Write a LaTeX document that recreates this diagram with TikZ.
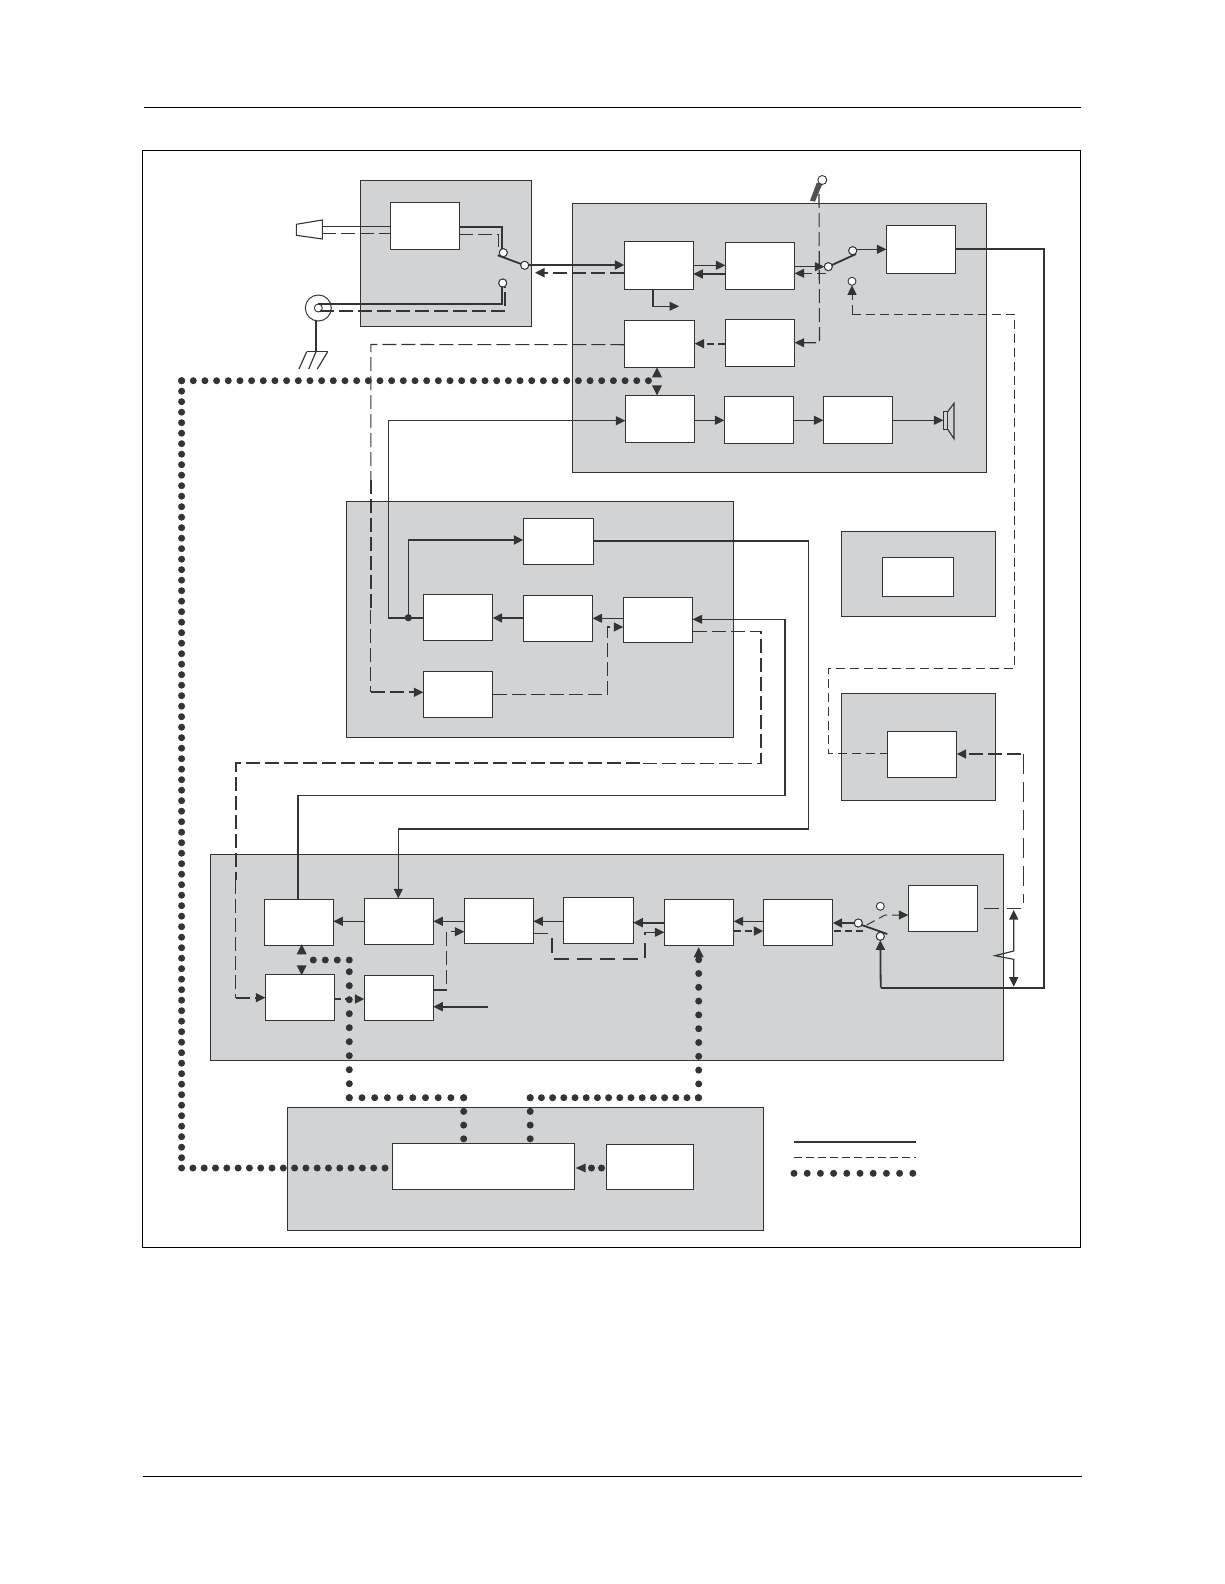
\documentclass[tikz,border=0pt]{standalone}
\usetikzlibrary{arrows.meta}
\definecolor{ink}{HTML}{333435}
\definecolor{panel}{HTML}{D1D3D4}
\newcommand\bx[6]{\node[#1,minimum width={(#5-#3)*1pt},minimum height={(#6-#4)*1pt}] (#2) at ({(#3+#5)/2},{(#4+#6)/2}) {};}
\tikzset{
  x=1pt,y=-1pt,
  >={Triangle[length=9.5pt,width=9pt]},
  grp/.style={draw=ink,fill=panel,line width=1pt,inner sep=0pt,outer sep=0pt,rectangle},
  blk/.style={draw=ink,fill=white,line width=1.1pt,inner sep=0pt,outer sep=0pt,rectangle},
  contact/.style={draw=ink,fill=white,line width=.9pt,circle,inner sep=0pt,outer sep=0pt,minimum size=8pt},
  wire/.style={draw=ink,line width=1.15pt},
  wirebold/.style={draw=ink,line width=1.8pt},
  dashwire/.style={draw=ink,line width=1pt,dash pattern=on 9pt off 5pt},
  dashlong/.style={draw=ink,line width=1.1pt,dash pattern=on 14pt off 5pt},
  dashgap/.style={draw=ink,line width=1.1pt,dash pattern=on 15pt off 8pt},
  dashbold/.style={draw=ink,line width=1.7pt,dash pattern=on 14pt off 5pt},
  dashshort/.style={draw=ink,line width=1.7pt,dash pattern=on 7pt off 4pt},
  dotbus/.style={draw=ink,line width=7pt,line cap=round,dash pattern=on 0pt off #1},
  dotbus/.default=13pt,
  rule/.style={draw=black,line width=1.1pt},
  tipfill/.style={fill=ink}
}
\begin{document}
\begin{tikzpicture}
\useasboundingbox (0,0) rectangle (1224,1584);
% page rules and frame
\node[draw=black,line width=1pt,inner sep=0pt,outer sep=0pt,minimum width=938pt,minimum height=1096.7pt] (frame) at (611.3,698.65) {};
\coordinate (topL) at (144,107.3); \coordinate (topR) at (1081,107.3);
\coordinate (botL) at (143,1476.3); \coordinate (botR) at (1081.7,1476.3);
\draw[rule] (topL) -- (topR);
\draw[rule] (botL) -- (botR);
% panels
\bx{grp}{pA}{360.3}{180.3}{531.3}{326}
\bx{grp}{pB}{572.3}{203}{986.3}{472.3}
\bx{grp}{pD}{346.3}{501.3}{733.3}{737.3}
\bx{grp}{pG}{841.3}{531.7}{995.3}{616.3}
\bx{grp}{pC}{841.3}{693.3}{995.7}{800.3}
\bx{grp}{pE}{210.3}{854.3}{1003.3}{1060.3}
\bx{grp}{pF}{287.3}{1107.3}{763.8}{1230.3}
% blocks
\bx{blk}{a1}{390.3}{202.3}{459.3}{249.3}
\bx{blk}{b1}{624.3}{241.3}{693.3}{289.3}
\bx{blk}{b2}{725.3}{242.3}{794.7}{289.3}
\bx{blk}{b3}{886.3}{225.3}{955.7}{273.3}
\bx{blk}{b4}{624.3}{320.3}{694.7}{367.3}
\bx{blk}{b5}{725.3}{319.3}{794.7}{366.3}
\bx{blk}{b6}{625.3}{395.3}{694.7}{442.3}
\bx{blk}{b7}{724.3}{396.3}{793.7}{443.7}
\bx{blk}{b8}{823.3}{396.3}{892.7}{443.7}
\bx{blk}{d1}{523.3}{518.3}{593.3}{564.3}
\bx{blk}{d2}{423.3}{594.3}{492.7}{640.3}
\bx{blk}{d3}{523.3}{595.3}{592.7}{641.3}
\bx{blk}{d4}{623.3}{597.3}{692.7}{642.7}
\bx{blk}{d5}{423.3}{671.3}{492.7}{717.3}
\bx{blk}{g1}{882.3}{557.3}{953.3}{596.3}
\bx{blk}{c1}{887.3}{731.3}{956.7}{777.3}
\bx{blk}{e1}{264.3}{899.3}{333.3}{945.3}
\bx{blk}{e2}{265.3}{974.3}{334.3}{1020.3}
\bx{blk}{e3}{364.3}{898.3}{433.3}{944.3}
\bx{blk}{e4}{364.3}{975.3}{433.3}{1020.3}
\bx{blk}{e5}{464.3}{898.3}{533.3}{943.3}
\bx{blk}{e6}{563.3}{897.3}{633.3}{943.3}
\bx{blk}{e7}{664.3}{899.3}{733.7}{945.3}
\bx{blk}{e8}{763.3}{899.3}{832.7}{945.3}
\bx{blk}{e9}{908.3}{885.3}{977.3}{931.3}
\bx{blk}{f1}{392.5}{1143.3}{574.7}{1189.3}
\bx{blk}{f2}{606.7}{1144.3}{693.5}{1189.3}
% contacts
\node[contact] (sa1) at (503.3,252.7) {};
\node[contact] (sa2) at (524.7,265.3) {};
\node[contact] (sa3) at (502.7,283) {};
\node[contact] (sb1) at (828.3,266.7) {};
\node[contact] (sb2) at (852.7,250.7) {};
\node[contact] (sb3) at (852,281.3) {};
\node[contact] (se1) at (858.3,923) {};
\node[contact] (se2) at (880.3,906.3) {};
\node[contact] (se3) at (880.3,936.3) {};
% horn
\draw[ink,line width=1.1pt] (296.3,224.3) -- (322.3,220) -- (322.3,239) -- (296.3,235.3) -- cycle;
\coordinate (horn1) at (322.3,226.7);
\coordinate (horn2) at (322.3,233.3);
\draw[wire] (horn1) -- (a1.west |- horn1);
\draw[dashlong] (horn2) -- (a1.west |- horn2);
\draw[wirebold] (a1.east |- 0,226.7) -- (501.7,226.7) -- (501.7,249);
\draw[dashlong] (a1.east |- 0,234.3) -- (498.3,234.3) -- (498.3,250);
% coax and earth
\node[draw=ink,line width=1pt,circle,inner sep=0pt,minimum size=26pt] (coax) at (318.3,308) {};
\node[contact] (coaxin) at (318.3,308) {};
\draw[wirebold] (318.3,304) -- (501.7,304) -- (501.7,287);
\draw[dashbold] (320,311) -- (505.3,311) -- (505.3,287);
\coordinate (gnd) at (316,351.7);
\draw[wire] (316,321) -- (gnd);
\draw[wire] (306.7,351.7) -- (327.7,351.7);
\draw[wire] (306.7,351.7) -- (299,369);
\draw[wire] (gnd) -- (308.7,369);
\draw[wire] (327.7,351.7) -- (317.3,369);
\node[contact] at (sa3) {};
% switch A arm, links
\draw[wirebold] (497.7,255.3) -- (sa2);
\node[contact] at (sa2) {};
\node[contact] at (sa1) {};
\draw[wirebold,->] (sa2.east |- 0,265) -- (b1.west |- 0,265);
\draw[dashbold,->] (b1.west |- 0,272.7) -- (535,272.7);
\draw[wire,->] (b1.east |- 0,265.3) -- (b2.west |- 0,265.3);
\draw[wirebold,->] (b2.west |- 0,274) -- (b1.east |- 0,274);
\draw[wire,->] (653,289.3) -- (653,306.3) -- (679,306.3);
% mic
\fill[ink!85] (816.7,182.7) -- (822.3,184) -- (815,201.7) -- (810,200.7) -- cycle;
\node[contact,minimum size=9pt] (mic) at (822.3,180) {};
\coordinate (micb) at (819,194);
\draw[dashlong,->] (micb) -- (819.5,342.7) -- (b5.east |- 0,342.7);
\draw[wire,->] (b2.east |- 0,266.7) -- (sb1.west);
\draw[dashwire,->] (825.7,273.3) -- (b2.east |- 0,273.3);
\draw[wirebold] (sb1) -- (856,254);
\node[contact] at (sb1) {};
\node[contact] at (sb2) {};
\draw[wire,->] (857,249.3) -- (b3.west |- 0,249.3);
\draw[dashshort,->] (b5.west |- 0,343.7) -- (b4.east |- 0,343.7);
\draw[dashwire,->] (852,314) -- (sb3.south);
% dashed path to C
\draw[dashwire] (852,314) -- (1014.5,314) -- (1014.5,668.3) -- (828.3,668.3) -- (828.3,753.3) -- (c1.west |- 0,753.3);
% B3 out
\draw[wirebold] (b3.east |- 0,249) -- (1044,249) -- (1044,700);
\draw[wire] (1044,700) -- (1044,860);
\draw[wirebold] (1044,860) -- (1044,987.7) -- (880.7,987.7);
\draw[wirebold,->] (880.7,987.7) -- (se3.south);
% B4 dashed to D5
\draw[dashlong] (b4.west |- 0,344.7) -- (370.8,344.5) -- (370.8,480);
\draw[dashbold] (370.8,480) -- (370.8,610);
\draw[dashlong] (370.8,610) -- (370.8,692.3);
\draw[dashbold,->] (370.8,692.3) -- (d5.west |- 0,692.3);
% lower row of B
\draw[wire,->] (388.3,618) -- (388.3,420.7) -- (b6.west |- 0,420.7);
\draw[wire] (388.3,618) -- (d2.west |- 0,618);
\draw[wire] (408.3,618) -- (408.3,540);
\draw[wirebold,->] (408.3,540) -- (d1.west |- 0,540);
\fill[ink] (408.3,617.7) circle (3.6pt);
\draw[wire,->] (b6.east |- 0,420.3) -- (b7.west |- 0,420.3);
\draw[wire,->] (b7.east |- 0,420.3) -- (b8.west |- 0,420.3);
\coordinate (spk) at (943.3,420.3);
\draw[wire,->] (b8.east |- spk) -- (spk);
\draw[ink,line width=1.1pt] (943.3,411.7) rectangle (947.7,429.3);
\draw[ink,line width=1.1pt] (947.7,411.7) -- (954,403.3) -- (954,438.7) -- (947.7,429.3);
% panel D
\draw[wirebold,->] (d3.west |- 0,618) -- (d2.east |- 0,618);
\draw[wire,->] (d4.west |- 0,618.3) -- (d3.east |- 0,618.3);
\draw[dashlong,->] (d5.east |- 0,694.3) -- (607.7,694.3) -- (607.7,627) -- (d4.west |- 0,627);
\draw[wire] (d1.east |- 0,541) -- (808.3,541) -- (808.3,829) -- (398.3,829);
\draw[wire,->] (398.3,829) -- (e3.north -| 398.3,0);
\draw[wire,->] (e1.north -| 298,0) -- (298,795.7) -- (785,795.7) -- (785,619.3) -- (d4.east |- 0,619.3);
\draw[dashlong] (d4.east |- 0,631.7) -- (761,631.7) -- (761,763.3) -- (640,763.3);
\draw[dashbold] (640,763.3) -- (235.9,763.3) -- (235.9,880);
\draw[dashlong] (235.9,880) -- (235.9,997.7);
\draw[dashbold,->] (235.9,997.7) -- (e2.west |- 0,997.7);
% panel E
\draw[wire,->] (e3.west |- 0,921.3) -- (e1.east |- 0,921.3);
\draw[wire,->] (e5.west |- 0,921.3) -- (e3.east |- 0,921.3);
\draw[wire,->] (e6.west |- 0,921.3) -- (e5.east |- 0,921.3);
\draw[wirebold,->] (e7.west |- 0,922.7) -- (e6.east |- 0,922.7);
\draw[wire,->] (e8.west |- 0,921.3) -- (e7.east |- 0,921.3);
\draw[dashshort,->] (e7.east |- 0,931) -- (e8.west |- 0,931);
\draw[dashshort,->] (e2.east |- 0,999) -- (e4.west |- 0,999);
\draw[dashlong,->] (e4.east |- 0,990) -- (446.7,990) -- (446.7,931.7) -- (e5.west |- 0,931.7);
\draw[dashgap,->] (e5.east |- 0,933.3) -- (552,933.3) -- (552,959) -- (645,959) -- (645,932.3) -- (e7.west |- 0,932.3);
\coordinate (extin) at (487.7,1006.7);
\draw[wirebold,->] (extin) -- (e4.east |- extin);
\draw[wirebold,->] (se1.west) -- (e8.east |- se1.west);
\draw[dashshort] (834,930.7) -- (863,930.7);
\draw[wirebold] (861.7,925) -- (887.3,934);
\draw[dashwire,->] (866.7,925) -- (885,915) -- (e9.west |- 0,915);
\node[contact] at (se1) {};
\node[contact] at (se3) {};
\coordinate (e9out) at (984,908.3);
\draw[dashgap] (e9out) -- (1021,908.3);
\draw[draw=ink,line width=1.1pt,dash pattern=on 20pt off 8pt] (1023.3,754) -- (1023.3,903);
\draw[dashbold,->] (1021,754) -- (c1.east |- 0,754);
% zigzag double arrow
\draw[wire,<->] (1013.7,910) -- (1013.7,951) -- (995,955.7) -- (1013.7,959.3) -- (1013.7,986.7);
% dotted buses, one segment at a time so that a dot sits on each corner
\coordinate (busA) at (463.7,1097.7);
\coordinate (busB) at (349.3,1097.7);
\coordinate (busC) at (349.3,960);
\coordinate (busD) at (530.2,1097.7);
\coordinate (busE) at (698.7,1097.7);
\coordinate (busF) at (181.6,1168);
\coordinate (busG) at (181.6,380.7);
\draw[dotbus=13.7pt] (busA) -- (463.7,1140);
\draw[dotbus=12.7pt] (busB) -- (busA);
\draw[dotbus=14pt] (busB) -- (busC);
\draw[dotbus=12pt] (busC) -- (301.7,960);
\draw[dotbus=13.7pt] (busD) -- (530.2,1140);
\draw[dotbus=11.2pt] (busD) -- (busE);
\draw[dotbus=13.8pt] (busE) -- (698.7,958);
\draw[dotbus=11.3pt] (busF) -- (388,1168);
\draw[dotbus=10.5pt] (busG) -- (busF);
\draw[dotbus=11.67pt] (busG) -- (657,380.7);
\draw[dotbus=10pt] (601.5,1168) -- (590,1168);
% dotted bus tips
\fill[tipfill] (f1.east |- 0,1168) ++(1,0) -- ++(10,-4.5) -- ++(0,9) -- cycle;
\fill[tipfill] (e7.south -| 698.7,0) ++(0,2) -- ++(-5,10) -- ++(10,0) -- cycle;
\fill[tipfill] (e1.south -| 301.7,0) ++(0,-1) -- ++(-5,10) -- ++(10,0) -- cycle;
\fill[tipfill] (e2.north -| 301.7,0) ++(0,1) -- ++(-5,-10) -- ++(10,0) -- cycle;
\fill[tipfill] (b4.south -| 657,0) -- ++(-5,10) -- ++(10,0) -- cycle;
\fill[tipfill] (b6.north -| 657,0) -- ++(-5,-10) -- ++(10,0) -- cycle;
% legend
\coordinate (l1a) at (794,1142); \coordinate (l1b) at (916,1142);
\coordinate (l2a) at (794,1157.3); \coordinate (l2b) at (916,1157.3);
\coordinate (l3a) at (794,1173.3); \coordinate (l3b) at (914,1173.3);
\draw[wire] (l1a) -- (l1b);
\draw[draw=ink,line width=1pt,dash pattern=on 8pt off 4pt] (l2a) -- (l2b);
\draw[dotbus=13.2pt] (l3a) -- (l3b);
\end{tikzpicture}
\end{document}
